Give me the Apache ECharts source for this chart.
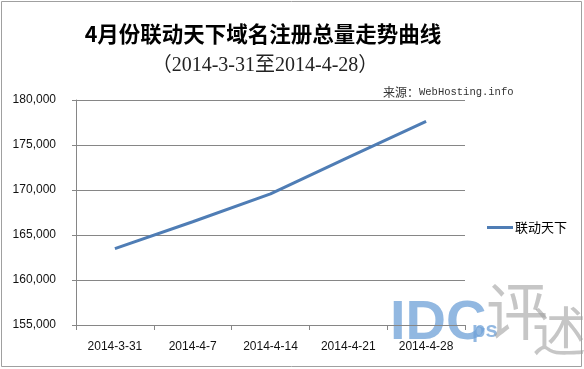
<!DOCTYPE html>
<html><head><meta charset="utf-8">
<script src="https://cdn.jsdelivr.net/npm/echarts@6/dist/echarts.min.js"></script>
<style>html,body{margin:0;padding:0;background:#fff}#c{width:584px;height:369px}</style>
</head><body><div id="c"></div>
<script>
var categories = ['2014-3-31','2014-4-7','2014-4-14','2014-4-21','2014-4-28'];
var seriesName = '联动天下';
var values = [163480, 166470, 169560, 173620, 177630];
var yMin = 155000, yMax = 180000, yStep = 5000;

var chart = echarts.init(document.getElementById('c'), null, {renderer:'canvas'});
var fmt = function(v){ return v.toString().replace(/\B(?=(\d{3})+(?!\d))/g, ','); };
chart.setOption({
  animation:false,
  backgroundColor:'#fff',
  title:[{
    text:'4月份联动天下域名注册总量走势曲线',
    left:258, top:18, textAlign:'center',
    textStyle:{fontSize:21.5, fontWeight:'bold', color:'#000', fontFamily:'Noto Sans CJK SC'}
  },{
    text:'（2014-3-31至2014-4-28）',
    left:260, top:51, textAlign:'center',
    textStyle:{fontSize:20, fontWeight:'normal', color:'#222', fontFamily:'"Liberation Serif", "Noto Sans CJK SC"'}
  },{
    text:'{a|来源：}{b|WebHosting.info}',
    left:378, top:81,
    textStyle:{fontWeight:'normal', rich:{
      a:{fontSize:12, fontWeight:'normal', color:'#333', fontFamily:'"Noto Sans CJK SC"'},
      b:{fontSize:10.5, fontWeight:'normal', color:'#333', fontFamily:'"Liberation Mono"'}
    }}
  }],
  legend:{
    data:[seriesName], orient:'vertical', left:487, top:221, padding:0,
    itemWidth:26, itemHeight:3, itemGap:4, icon:'rect',
    textStyle:{fontSize:13, color:'#000', fontFamily:'Noto Sans CJK SC', padding:[0,0,0,-3]}
  },
  grid:{left:76, top:100, width:389, height:225, containLabel:false},
  xAxis:{
    type:'category', data:categories, boundaryGap:true,
    axisLine:{lineStyle:{color:'#868686', width:1}},
    axisTick:{show:true, length:5, inside:false, lineStyle:{color:'#868686'}},
    axisLabel:{fontSize:12, color:'#111', margin:16, fontFamily:'"Liberation Sans", Arial'}
  },
  yAxis:{
    type:'value', min:yMin, max:yMax, interval:yStep,
    axisLine:{show:true, lineStyle:{color:'#868686'}},
    axisTick:{show:true, length:4, lineStyle:{color:'#868686'}},
    splitLine:{lineStyle:{color:'#868686', width:1}},
    axisLabel:{fontSize:12, color:'#111', margin:20, formatter:fmt, fontFamily:'"Liberation Sans", Arial'}
  },
  series:[{
    name:seriesName, type:'line', data:values, showSymbol:false, symbol:'none',
    lineStyle:{color:'#4F7DB5', width:3}, itemStyle:{color:'#4F7DB5'}
  }],
  graphic:[
    {type:'rect', shape:{x:1.5, y:1.5, width:580, height:365}, style:{fill:null, stroke:'#a0a0a0', lineWidth:1}, silent:true},
    {type:'text', left:390, top:296, style:{text:'IDC', fontSize:56, fontWeight:'bold', fill:'rgba(110,160,215,0.75)', fontFamily:'"Liberation Sans", Arial'}, silent:true, z:-1},
    {type:'text', left:472, top:320, style:{text:'ps', fontSize:22, fontWeight:'bold', fill:'rgba(110,160,215,0.75)', fontFamily:'"Liberation Sans", Arial'}, silent:true, z:-1},
    {type:'text', left:486, top:280, style:{text:'评', fontSize:62, fill:'rgba(160,160,160,0.6)', fontFamily:'"Noto Sans CJK SC"'}, silent:true, z:-1},
    {type:'text', left:532, top:304, style:{text:'述', fontSize:54, fill:'rgba(160,160,160,0.6)', fontFamily:'"Noto Sans CJK SC"'}, silent:true, z:-1}
  ]
});
</script></body></html>
